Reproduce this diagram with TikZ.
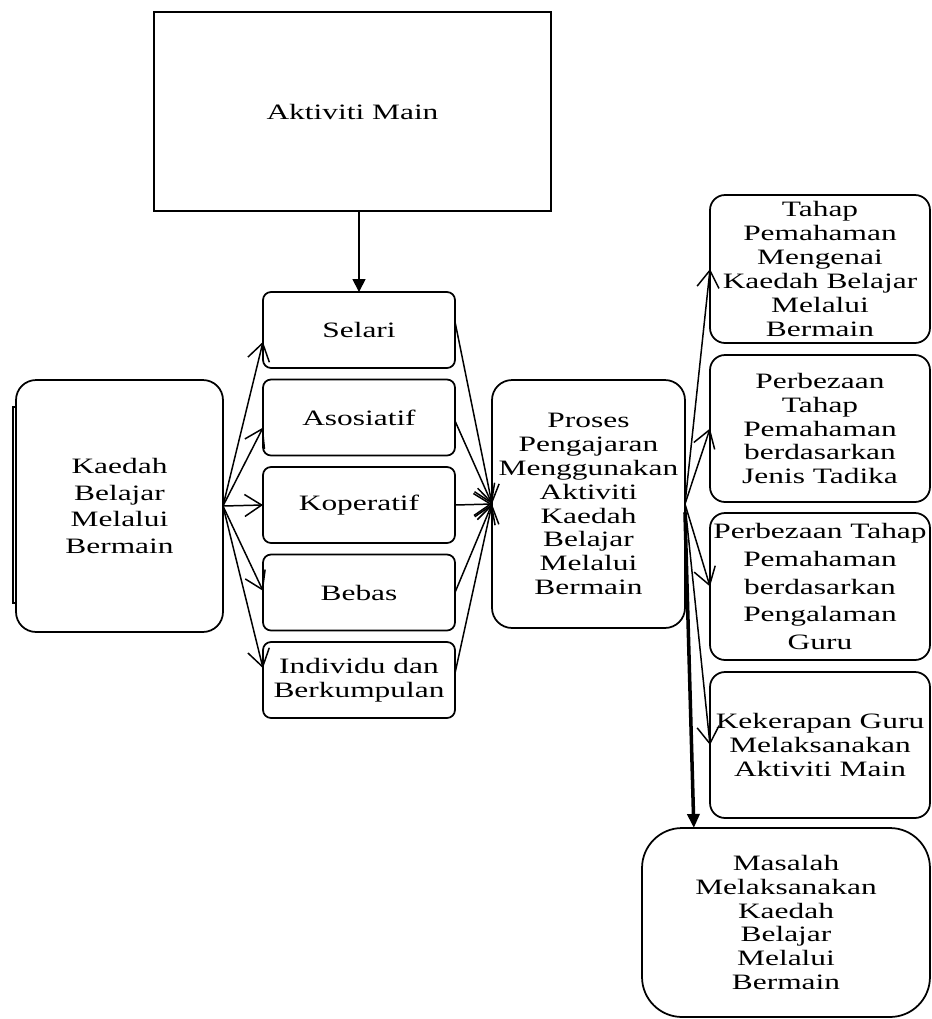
\documentclass[tikz,border=0pt]{standalone}
\usepackage{fontspec}
\setmainfont{Liberation Serif}[FakeStretch=1.43]
\usepackage{tikz}
\usetikzlibrary{arrows.meta,calc}

\begin{document}
\begin{tikzpicture}[x=0.02cm,y=-0.02cm,
every node/.style={align=center, inner sep=0pt, outer sep=0pt, font=\fontsize{12.5}{13.6}\selectfont},
kotak/.style={draw, line width=1pt, rounded corners=#1},
kotak/.default=0.16cm,
panah/.style={-{Straight Barb[length=3.4mm,width=4.4mm]}, line width=0.85pt},
panahpenuh/.style={-{Triangle[length=2.6mm,width=2.6mm]}, line width=1pt}]
\useasboundingbox (0,0) rectangle (932,1019);
\node[draw, line width=1.3pt, minimum width=7.94cm, minimum height=3.98cm] (aktiviti) at (352.5,111.5) {Aktiviti Main};
\node[kotak=0.4cm, minimum width=4.14cm, minimum height=5.04cm, font=\fontsize{12.5}{15.2}\selectfont] (kaedah) at (119.5,506) {Kaedah\\Belajar\\Melalui\\Bermain};
\draw[line width=1pt] (16,407) -- (13,407) -- (13,603) -- (16,603);
\foreach \n/\teks/\i in {selari/Selari/0, asosiatif/Asosiatif/1, koperatif/Koperatif/2, bebas/Bebas/3, individu/{Individu dan\\Berkumpulan}/4} {
\node[kotak, minimum width=3.84cm, minimum height=1.52cm] (\n) at (359,{330+87.5*\i}) {\teks};
}
\node[kotak=0.4cm, minimum width=3.86cm, minimum height=4.96cm] (proses) at (588.5,504) {Proses\\Pengajaran\\Menggunakan\\Aktiviti\\Kaedah\\Belajar\\Melalui\\Bermain};
\node[kotak=0.3cm, minimum width=4.4cm, minimum height=2.96cm] (tahap) at (820,269) {Tahap\\Pemahaman\\Mengenai\\Kaedah Belajar\\Melalui\\Bermain};
\node[kotak=0.3cm, minimum width=4.4cm, minimum height=2.94cm] (jenis) at (820,428.5) {Perbezaan\\Tahap\\Pemahaman\\berdasarkan\\Jenis Tadika};
\node[kotak=0.3cm, minimum width=4.4cm, minimum height=2.94cm, font=\fontsize{12.5}{15.8}\selectfont] (pengalaman) at (820,586.5) {Perbezaan Tahap\\Pemahaman\\berdasarkan\\Pengalaman\\Guru};
\node[kotak=0.3cm, minimum width=4.4cm, minimum height=2.92cm] (kekerapan) at (820,745) {Kekerapan Guru\\Melaksanakan\\Aktiviti Main};
\node[kotak=0.8cm, minimum width=5.76cm, minimum height=3.78cm] (masalah) at (786,922.5) {Masalah\\Melaksanakan\\Kaedah\\Belajar\\Melalui\\Bermain};
\draw[panahpenuh] (aktiviti.south -| selari.north) -- (selari.north);
\foreach \n/\s in {selari/187, asosiatif/186, koperatif/180, bebas/179, individu/173} {
\draw[panah] (kaedah.east) -- (\n.\s);
}
\foreach \n/\s in {selari/5, asosiatif/358, koperatif/0, bebas/0, individu/4} {
\draw[panah] (\n.\s) -- (proses.west);
}
\foreach \n in {tahap,jenis,pengalaman,kekerapan} {
\draw[panah] (proses.east) -- (\n.west);
}
\draw[-{Triangle[length=2.8mm,width=2.4mm]}, line width=2pt] (proses.-5) -- ($(masalah.north west)!0.18!(masalah.north east)$);
\end{tikzpicture}
\end{document}
